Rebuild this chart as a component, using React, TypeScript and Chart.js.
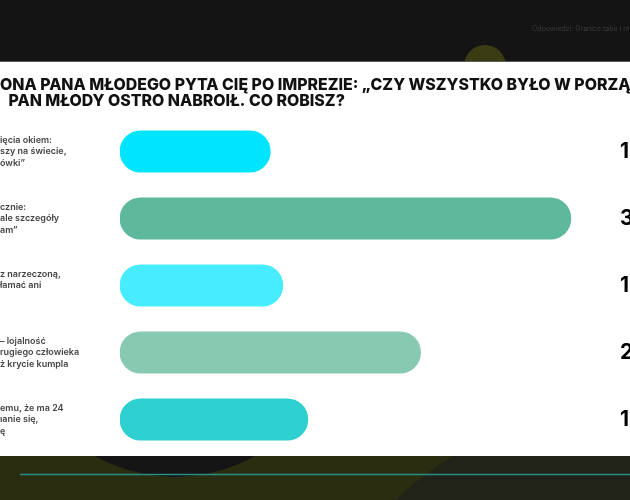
import { useEffect, useRef } from "react";
import { Chart, registerables } from "chart.js";

Chart.register(...registerables);

// ---- data ----
const categories: string[][] = [
  ["ięcia okiem:", "szy na świecie,", "ówki”"],
  ["cznie:", "ale szczegóły", "am”"],
  ["z narzeczoną,", "łamać ani", ""],
  ["– lojalność", "rugiego człowieka", "ż krycie kumpla"],
  ["emu, że ma 24", "ıanie się,", "ę"],
];
const values: number[] = [12, 36, 13, 24, 15];
const valueLabels: string[] = ["12%", "36%", "13%", "24%", "15%"];
const barColors: string[] = ["#00E5FF", "#5EB89C", "#48ECFF", "#88C9B2", "#2ECFCF"];
const titleLines: string[] = [
  "ONA PANA MŁODEGO PYTA CIĘ PO IMPREZIE: „CZY WSZYSTKO BYŁO W PORZĄDKU?”",
  "PAN MŁODY OSTRO NABROIŁ. CO ROBISZ?",
];
const headerNote = "Odpowiedzi: Granice tabu i moralności";

const W = 630;
const H = 500;

const backgroundPlugin = {
  id: "slideBackground",
  beforeDraw(chart: any) {
    const ctx: CanvasRenderingContext2D = chart.ctx;
    ctx.save();
    // top dark band
    ctx.fillStyle = "#141414";
    ctx.fillRect(0, 0, W, 62);
    // top olive circle (clipped to the band)
    ctx.save();
    ctx.beginPath();
    ctx.rect(0, 0, W, 61);
    ctx.clip();
    ctx.fillStyle = "#3a3c14";
    ctx.beginPath();
    ctx.arc(485, 66, 21, 0, Math.PI * 2);
    ctx.fill();
    ctx.restore();
    // small header note
    ctx.fillStyle = "#3a3a3a";
    ctx.font = "7px Inter";
    ctx.textBaseline = "middle";
    ctx.textAlign = "left";
    ctx.fillText(headerNote, 532, 29);

    // bottom olive band
    ctx.save();
    ctx.beginPath();
    ctx.rect(0, 455, W, H - 455);
    ctx.clip();
    ctx.fillStyle = "#2b2d11";
    ctx.fillRect(0, 455, W, H - 455);
    ctx.fillStyle = "#222318";
    ctx.beginPath();
    ctx.arc(640, 760, 357, 0, Math.PI * 2);
    ctx.fill();
    ctx.fillStyle = "#151515";
    ctx.beginPath();
    ctx.arc(175, 314, 163, 0, Math.PI * 2);
    ctx.fill();
    ctx.strokeStyle = "#2a8c86";
    ctx.lineWidth = 1.5;
    ctx.beginPath();
    ctx.moveTo(20, 474.5);
    ctx.lineTo(W, 474.5);
    ctx.stroke();
    ctx.restore();

    // white panel
    ctx.fillStyle = "#ffffff";
    ctx.fillRect(0, 62, W, 394);
    ctx.fillStyle = "#5a5a5a";
    ctx.fillRect(0, 61, W, 1);

    // title
    ctx.fillStyle = "#111111";
    ctx.font = "800 15.9px Inter";
    ctx.textBaseline = "alphabetic";
    ctx.fillText(titleLines[0], 0, 89.5);
    ctx.fillText(titleLines[1], 8.5, 105.5);
    ctx.restore();
  },
};

const valueLabelPlugin = {
  id: "valueLabels",
  afterDatasetsDraw(chart: any) {
    const ctx: CanvasRenderingContext2D = chart.ctx;
    const meta = chart.getDatasetMeta(0);
    ctx.save();
    ctx.fillStyle = "#000000";
    ctx.font = "bold 21px Inter";
    ctx.textAlign = "left";
    ctx.textBaseline = "middle";
    meta.data.forEach((bar: any, i: number) => {
      ctx.fillText(valueLabels[i], 620, bar.y);
    });
    ctx.restore();
  },
};

export default function App() {
  const canvasRef = useRef<HTMLCanvasElement | null>(null);

  useEffect(() => {
    if (!canvasRef.current) return;
    const chart = new Chart(canvasRef.current, {
      type: "bar",
      data: {
        labels: categories,
        datasets: [
          {
            data: values,
            backgroundColor: barColors,
            borderRadius: 21,
            borderSkipped: false,
            barThickness: 41.5,
          },
        ],
      },
      options: {
        indexAxis: "y",
        responsive: false,
        animation: false,
        devicePixelRatio: 1,
        layout: { padding: { top: 118, bottom: 47, left: 0, right: 9 } },
        plugins: {
          legend: { display: false },
          tooltip: { enabled: false },
          title: { display: false },
        },
        scales: {
          x: { display: false, min: 0, max: 40 },
          y: {
            grid: { display: false },
            border: { display: false },
            afterFit: (s: any) => {
              s.width = 120;
            },
            ticks: {
              crossAlign: "far",
              padding: 0,
              color: "#444444",
              font: { family: "Inter", size: 9, weight: "600", lineHeight: 1.3 },
            },
          },
        },
      },
      plugins: [backgroundPlugin, valueLabelPlugin],
    });
    return () => chart.destroy();
  }, []);

  return (
    <div style={{ position: "fixed", left: 0, top: 0, width: W, height: H, overflow: "hidden" }}>
      <canvas ref={canvasRef} width={W} height={H} style={{ display: "block", width: W, height: H }} />
    </div>
  );
}
